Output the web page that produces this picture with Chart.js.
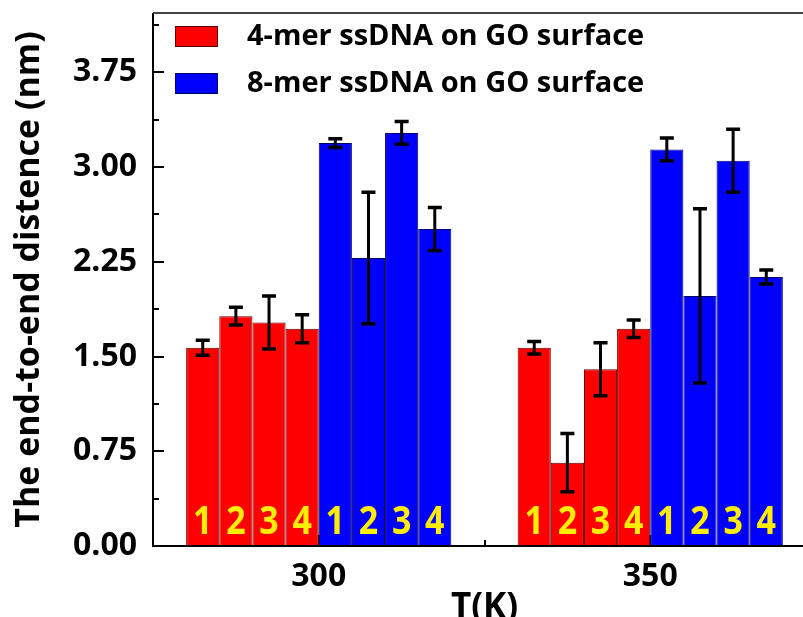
<!DOCTYPE html>
<html>
<head>
<meta charset="utf-8">
<script src="https://cdn.jsdelivr.net/npm/chart.js@4.4.1/dist/chart.umd.min.js"></script>
<style>
  html, body { margin: 0; padding: 0; background: #fff; overflow: hidden; }
  #wrap { width: 830px; height: 617px; }
</style>
</head>
<body>
<div id="wrap"><canvas id="distChart" width="830" height="617"></canvas></div>
<script>
// temperatures on the x axis
const temps = ['300', '350'];
// bar numbers printed inside the bars
const barNumbers = ['1', '2', '3', '4'];
// 4-mer ssDNA, one row per bar number: [300 K, 350 K]
const mer4Means = [[1.57, 1.57], [1.82, 0.66], [1.77, 1.40], [1.72, 1.72]];
const mer4Errors = [[0.06, 0.05], [0.07, 0.23], [0.21, 0.21], [0.11, 0.07]];
// 8-mer ssDNA, same layout
const mer8Means = [[3.19, 3.14], [2.28, 1.98], [3.27, 3.05], [2.51, 2.13]];
const mer8Errors = [[0.035, 0.09], [0.52, 0.69], [0.09, 0.25], [0.17, 0.055]];
const legendNames = ['4-mer ssDNA on GO surface', '8-mer ssDNA on GO surface'];
const yMax = 4.22;
const yStep = 0.75;

const RED = '#ff0000';
const BLUE = '#0000ff';
const FONT = "'Open Sans', 'DejaVu Sans', sans-serif";

const datasets = [];
mer4Means.forEach((vals, i) => {
    datasets.push({
        label: legendNames[0], data: vals, errors: mer4Errors[i], num: barNumbers[i],
        backgroundColor: RED, borderColor: '#5a0000', borderWidth: 1
    });
});
mer8Means.forEach((vals, i) => {
    datasets.push({
        label: legendNames[1], data: vals, errors: mer8Errors[i], num: barNumbers[i],
        backgroundColor: BLUE, borderColor: '#000060', borderWidth: 1
    });
});

const decorPlugin = {
    id: 'decor',
    beforeDatasetsDraw(chart) {
        const ctx = chart.ctx;
        const area = chart.chartArea;
        const y = chart.scales.y;
        const x = chart.scales.x;
        ctx.save();
        ctx.strokeStyle = '#000';
        ctx.lineWidth = 2;
        ctx.beginPath();
        // inward ticks on the y axis, majors and minors
        for (let v = 0; v <= yMax + 1e-9; v += yStep / 2) {
            const py = Math.round(y.getPixelForValue(v));
            const major = Math.abs(v / yStep - Math.round(v / yStep)) < 1e-6;
            ctx.moveTo(area.left, py);
            ctx.lineTo(area.left + (major ? 11 : 6), py);
        }
        // x ticks: majors at categories, minor between them
        const px0 = x.getPixelForValue(0);
        const px1 = x.getPixelForValue(1);
        [px0, px1].forEach(px => {
            ctx.moveTo(px, area.bottom);
            ctx.lineTo(px, area.bottom - 11);
        });
        const mid = Math.round((px0 + px1) / 2);
        ctx.moveTo(mid, area.bottom);
        ctx.lineTo(mid, area.bottom - 6);
        ctx.stroke();
        ctx.restore();
    },
    afterDatasetsDraw(chart) {
        const ctx = chart.ctx;
        const area = chart.chartArea;
        const yScale = chart.scales.y;
        ctx.save();

        // error bars
        ctx.strokeStyle = '#000';
        chart.data.datasets.forEach((ds, i) => {
            const meta = chart.getDatasetMeta(i);
            meta.data.forEach((bar, j) => {
                const v = ds.data[j];
                const e = ds.errors[j];
                const yt = yScale.getPixelForValue(v + e);
                const yb = yScale.getPixelForValue(v - e);
                ctx.lineWidth = 3;
                ctx.beginPath();
                ctx.moveTo(bar.x, yt);
                ctx.lineTo(bar.x, yb);
                ctx.stroke();
                ctx.lineWidth = 3.5;
                ctx.beginPath();
                ctx.moveTo(bar.x - 7, yt);
                ctx.lineTo(bar.x + 7, yt);
                ctx.moveTo(bar.x - 7, yb);
                ctx.lineTo(bar.x + 7, yb);
                ctx.stroke();
            });
        });

        // yellow bar numbers
        ctx.fillStyle = '#ffee00';
        ctx.font = 'bold 34px ' + FONT;
        ctx.textAlign = 'center';
        ctx.textBaseline = 'alphabetic';
        chart.data.datasets.forEach((ds, i) => {
            const meta = chart.getDatasetMeta(i);
            meta.data.forEach(bar => {
                ctx.save();
                ctx.translate(bar.x, 534);
                ctx.scale(1, 1.18);
                ctx.fillText(ds.num, 0, 0);
                ctx.restore();
            });
        });

        // axis lines and top frame
        ctx.strokeStyle = '#000';
        ctx.lineWidth = 2;
        ctx.beginPath();
        ctx.moveTo(area.left, area.top);
        ctx.lineTo(area.left, area.bottom);
        ctx.lineTo(area.right, area.bottom);
        ctx.stroke();
        ctx.strokeStyle = '#444';
        ctx.beginPath();
        ctx.moveTo(area.left, area.top);
        ctx.lineTo(area.right, area.top);
        ctx.stroke();

        // legend inside the plot
        const rows = [{ c: RED, b: '#5a0000', t: legendNames[0], y: 26 }, { c: BLUE, b: '#000060', t: legendNames[1], y: 73 }];
        ctx.font = 'bold 29px ' + FONT;
        ctx.textAlign = 'left';
        ctx.textBaseline = 'middle';
        rows.forEach(r => {
            ctx.fillStyle = r.c;
            ctx.fillRect(175, r.y, 43, 21);
            ctx.strokeStyle = r.b;
            ctx.lineWidth = 1;
            ctx.strokeRect(175.5, r.y + 0.5, 42, 20);
            ctx.fillStyle = '#000';
            ctx.fillText(r.t, 247, r.y + 11);
        });
        ctx.restore();
    }
};

new Chart(document.getElementById('distChart'), {
    type: 'bar',
    data: { labels: temps, datasets: datasets },
    options: {
        responsive: false,
        devicePixelRatio: 1,
        animation: false,
        layout: { padding: { left: 0, right: 14, top: 13, bottom: 0 } },
        plugins: { legend: { display: false }, tooltip: { enabled: false } },
        datasets: { bar: { categoryPercentage: 0.8, barPercentage: 1.0, borderSkipped: 'start' } },
        scales: {
            x: {
                grid: { display: false, drawTicks: false },
                border: { display: false },
                ticks: { color: '#000', padding: 12, font: { family: FONT, size: 32, weight: 'bold' } },
                title: {
                    display: true, text: 'T(K)', color: '#000',
                    font: { family: FONT, size: 35, weight: 'bold', lineHeight: 0.5 },
                    padding: 0
                },
                afterFit(scale) { scale.height = 71; scale.paddingLeft = 0; scale.paddingRight = 0; }
            },
            y: {
                min: 0, max: yMax,
                grid: { display: false, drawTicks: false },
                border: { display: false },
                ticks: {
                    stepSize: yStep, color: '#000', padding: 16,
                    font: { family: FONT, size: 32, weight: 'bold' },
                    callback: v => v.toFixed(2)
                },
                afterBuildTicks(scale) {
                    scale.ticks = scale.ticks.filter(t => Math.abs(t.value / yStep - Math.round(t.value / yStep)) < 1e-6);
                },
                title: {
                    display: true, text: 'The end-to-end distence (nm)', color: '#000',
                    font: { family: FONT, size: 34, weight: 'bold', lineHeight: 1 },
                    padding: { top: 12, bottom: 0 }
                },
                afterFit(scale) { scale.width = 153; scale.paddingTop = 0; scale.paddingBottom = 0; }
            }
        }
    },
    plugins: [decorPlugin]
});
</script>
</body>
</html>
